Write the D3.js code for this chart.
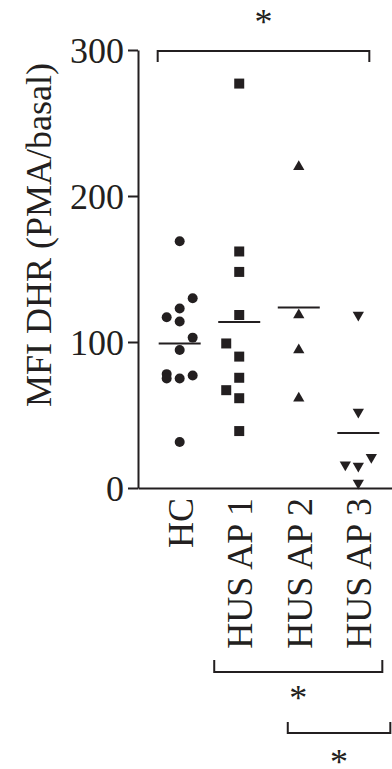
<!DOCTYPE html>
<html>
<head>
<meta charset="utf-8">
<script src="https://cdn.jsdelivr.net/npm/d3@7"></script>
<style>
  body { margin: 0; background: #fff; }
  svg { display: block; font-family: "Liberation Serif", "Times New Roman", serif; }
</style>
</head>
<body>
<div id="chart"></div>
<script>
// groups on the x axis
const categories = ['HC', 'HUS AP 1', 'HUS AP 2', 'HUS AP 3'];

// MFI DHR (PMA/basal) per subject
const hcValues  = [169, 130, 123, 117, 114, 103, 94.5, 78, 75, 75, 77, 31.5];
const ap1Values = [277, 162, 148, 118.5, 99, 90, 75.5, 67, 61.5, 39];
const ap2Values = [220, 118.5, 94.5, 61.5];
const ap3Values = [118.5, 52, 21, 16, 15, 3.5];

// scatter lane of each point (-1 left, 0 centre, 1 right)
const hcLanes  = [0, 1, 0, -1, 0, 1, 0, -1, -1, 0, 1, 0];
const ap1Lanes = [0, 0, 0, 0, -1, 0, 0, -1, 0, 0];
const ap2Lanes = [0, 0, 0, 0];
const ap3Lanes = [0, 0, 1, -1, 0, 0];

const yTicks = [0, 100, 200, 300];
const yLabel = 'MFI DHR (PMA/basal)';

// significance brackets
const comparisons = [
    { from: 'HC', to: 'HUS AP 3', label: '*' },
    { from: 'HUS AP 1', to: 'HUS AP 3', label: '*' },
    { from: 'HUS AP 2', to: 'HUS AP 3', label: '*' }
];

const groups = [
    { name: 'HC', values: hcValues, lanes: hcLanes, symbol: d3.symbolCircle },
    { name: 'HUS AP 1', values: ap1Values, lanes: ap1Lanes, symbol: d3.symbolSquare },
    { name: 'HUS AP 2', values: ap2Values, lanes: ap2Lanes, symbol: d3.symbolTriangle },
    { name: 'HUS AP 3', values: ap3Values, lanes: ap3Lanes, symbol: 'down' }
];

const width = 392, height = 769;
const ink = '#231f20';
const fontSize = 36;

const svg = d3.select('#chart')
    .append('svg')
    .attr('width', width)
    .attr('height', height);

// Scales
const x = d3.scaleBand()
    .domain(categories)
    .range([138, 400])
    .paddingInner(0)
    .paddingOuter(0.2);
const y = d3.scaleLinear()
    .domain([0, 300])
    .range([488, 50]);
const lane = d3.scaleLinear().domain([-1, 1]).range([-13, 13]);
const cx = name => x(name) + x.bandwidth() / 2;

// y axis
const yAxis = svg.append('g')
    .attr('transform', 'translate(138,0)')
    .call(d3.axisLeft(y).tickValues(yTicks).tickSize(10).tickSizeOuter(0).tickPadding(4));
yAxis.select('.domain').attr('stroke', ink).attr('stroke-width', 2);
yAxis.selectAll('.tick line').attr('stroke', ink).attr('stroke-width', 2);
yAxis.selectAll('.tick text')
    .attr('font-family', '"Liberation Serif", serif')
    .attr('font-size', fontSize)
    .attr('fill', ink)
    .attr('dy', '0.34em');

// x axis: plain line with rotated labels
const xAxis = svg.append('g')
    .attr('transform', `translate(0,${y(0)})`)
    .call(d3.axisBottom(x).tickSize(0).tickSizeOuter(0));
xAxis.select('.domain').attr('stroke', ink).attr('stroke-width', 2);
xAxis.selectAll('.tick text')
    .attr('font-family', '"Liberation Serif", serif')
    .attr('font-size', fontSize)
    .attr('fill', ink)
    .attr('text-anchor', 'end')
    .attr('y', 0)
    .attr('dy', 0)
    .attr('transform', 'translate(13,10) rotate(-90)');

// y label
svg.append('text')
    .attr('transform', 'translate(51,235) rotate(-90)')
    .attr('text-anchor', 'middle')
    .attr('font-size', fontSize)
    .attr('fill', ink)
    .text(yLabel);

// points
const symbolSize = { circle: 78, square: 100, triangle: 55 };
groups.forEach(g => {
    const down = g.symbol === 'down';
    const sym = d3.symbol()
        .type(down ? d3.symbolTriangle : g.symbol)
        .size(g.symbol === d3.symbolCircle ? symbolSize.circle
            : g.symbol === d3.symbolSquare ? symbolSize.square : symbolSize.triangle);
    svg.append('g').selectAll('path')
        .data(g.values.map((v, i) => ({ v, lane: g.lanes[i] })))
        .join('path')
        .attr('d', sym)
        .attr('fill', ink)
        .attr('transform', d => `translate(${cx(g.name) + lane(d.lane)},${y(d.v)})` + (down ? ' rotate(180)' : ''));

    // mean line
    const m = d3.mean(g.values);
    svg.append('line')
        .attr('x1', cx(g.name) - 21)
        .attr('x2', cx(g.name) + 21)
        .attr('y1', y(m))
        .attr('y2', y(m))
        .attr('stroke', ink)
        .attr('stroke-width', 2);
});

// brackets: [left offset, right offset, bar y, tip y, star centre y]
const bracketGeom = [
    [-22, 11, 51, 62, 18],
    [-25, 24, 672, 660, 694],
    [-11, 32, 733, 722, 758]
];
comparisons.forEach((c, i) => {
    const [l, r, by, ty, sy] = bracketGeom[i];
    const x1 = cx(c.from) + l, x2 = cx(c.to) + r;
    svg.append('path')
        .attr('d', `M${x1},${ty}V${by}H${x2}V${ty}`)
        .attr('fill', 'none')
        .attr('stroke', ink)
        .attr('stroke-width', 2);
    svg.append('text')
        .attr('x', (x1 + x2) / 2)
        .attr('y', sy + 16)
        .attr('text-anchor', 'middle')
        .attr('font-size', fontSize)
        .attr('fill', ink)
        .text(c.label);
});
</script>
</body>
</html>
